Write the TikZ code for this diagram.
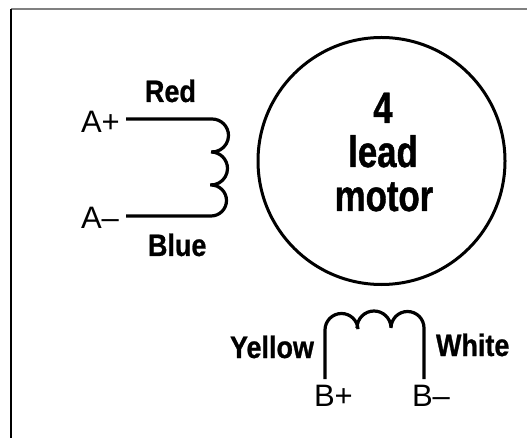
\documentclass[tikz,border=0pt]{standalone}
\usepackage{fontspec}
\setmainfont{Liberation Sans}
\newfontfamily\condlabel[FakeStretch=0.87,FakeBold=0.8]{Liberation Sans}
\newfontfamily\condtitle[FakeStretch=0.79,FakeBold=1]{Liberation Sans}
\tikzset{
  lbl/.style={anchor=base west,inner sep=0pt,outer sep=0pt},
  term/.style={lbl,font=\fontsize{31}{31}\selectfont},
  wirename/.style={lbl,font=\condlabel\bfseries\fontsize{31}{31}\selectfont},
  title/.style={anchor=base,inner sep=0pt,outer sep=0pt,font=\condtitle\bfseries\fontsize{44}{44}\selectfont},
  wire/.style={line width=3.2pt,line join=round},
  motorring/.style={circle,draw,line width=3pt,minimum size=247pt,inner sep=0pt,outer sep=0pt}
}
\begin{document}
\begin{tikzpicture}[x=1pt,y=-1pt]
\useasboundingbox (0,0) rectangle (527,438);
% frame
\coordinate (fb) at (11,438);
\coordinate (fc) at (11,9);
\coordinate (fr) at (527,9);
\draw[line width=1.5pt,black!50] (fc) -- (fr);
\draw[line width=2pt,black] (fb) -- (fc);
% motor
\node[motorring] (motor) at (381.5,161) {};
\node[title] (n4) at (383,123) {4};
\node[title] (nlead) at (383,167) {lead};
\node[title] (nmotor) at (384,211) {motor};
% coil A
\coordinate (ap) at (126,119);
\coordinate (am) at (126,216);
\draw[wire] (ap) -- (212,119) arc[start angle=-90,end angle=93,radius=16.5]
  (211,152) arc[start angle=-90,end angle=93,radius=16.5]
  (211,185) arc[start angle=-90,end angle=90,radius=15.5] -- (am);
% coil B
\coordinate (bp) at (325,379);
\coordinate (bm) at (424,379);
\draw[wire] (bp) -- (325,330) arc[start angle=180,end angle=357,radius=16.5]
  (357,328) arc[start angle=180,end angle=357,radius=17]
  (391,328) arc[start angle=180,end angle=360,radius=16.5] -- (bm);
% labels
\node[term] (tap) at (81,133) {A+};
\node[term] (tam) at (81,229) {A–};
\node[term] (tbp) at (314,406) {B+};
\node[term] (tbm) at (412,406) {B–};
\node[wirename] (red) at (145,102) {Red};
\node[wirename] (blue) at (148,256) {Blue};
\node[wirename] (yellow) at (230,358) {Yellow};
\node[wirename] (white) at (436,356) {White};
\end{tikzpicture}
\end{document}
